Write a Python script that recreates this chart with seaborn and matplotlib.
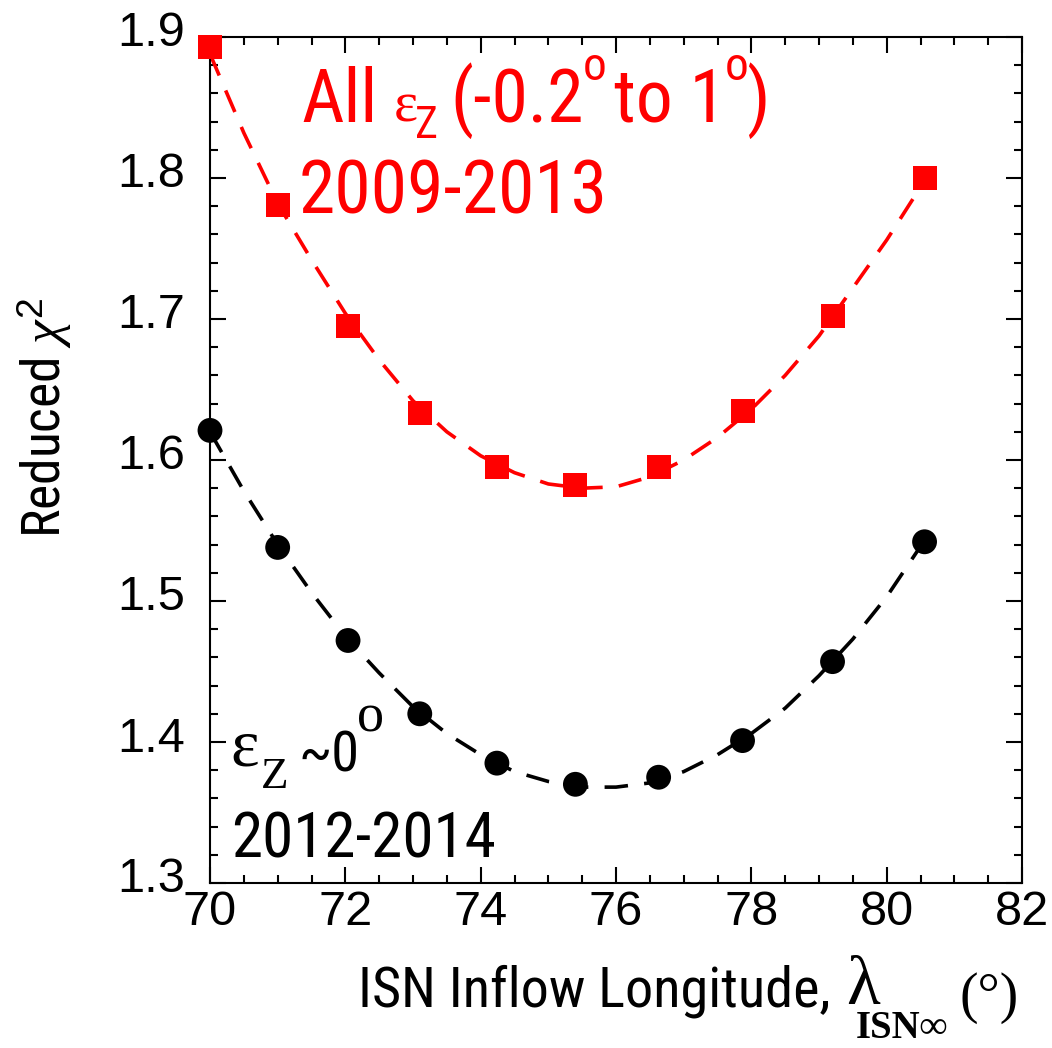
import matplotlib
matplotlib.use("Agg")
import numpy as np
import pandas as pd
import matplotlib.pyplot as plt
import seaborn as sns
from matplotlib import font_manager
from matplotlib.ticker import MultipleLocator
from matplotlib.transforms import ScaledTranslation

# ---------------- data ----------------
lon_pts = [70.0, 71.0, 72.04, 73.1, 74.24, 75.4, 76.63, 77.87, 79.2, 80.56]
chi_all = [1.893, 1.781, 1.695, 1.633, 1.595, 1.582, 1.595, 1.635, 1.702, 1.800]
chi_zero = [1.621, 1.538, 1.472, 1.420, 1.385, 1.370, 1.375, 1.401, 1.457, 1.542]

fit_lon = [70.0, 70.5, 71.0, 71.5, 72.0, 72.5, 73.0, 73.5, 74.0, 74.5, 75.0,
           75.5, 76.0, 76.5, 77.0, 77.5, 78.0, 78.5, 79.0, 79.5, 80.0, 80.56]
fit_all = [1.888, 1.832, 1.782, 1.742, 1.704, 1.671, 1.642, 1.620, 1.603, 1.591, 1.583,
           1.580, 1.581, 1.588, 1.600, 1.616, 1.636, 1.660, 1.688, 1.722, 1.756, 1.798]
fit_zero = [1.620, 1.578, 1.540, 1.506, 1.475, 1.449, 1.425, 1.406, 1.391, 1.379, 1.372,
            1.368, 1.368, 1.371, 1.379, 1.391, 1.406, 1.424, 1.447, 1.473, 1.503, 1.543]

xticks = [70, 72, 74, 76, 78, 80, 82]
yticks = [1.3, 1.4, 1.5, 1.6, 1.7, 1.8, 1.9]
xtick_labels = ["70", "72", "74", "76", "78", "80", "82"]
ytick_labels = ["1.3", "1.4", "1.5", "1.6", "1.7", "1.8", "1.9"]

RED = "#ff0000"
BLACK = "#000000"

# ---------------- style ----------------
sns.set_style("ticks")
names = {f.name for f in font_manager.fontManager.ttflist}
COND = "Roboto Condensed" if "Roboto Condensed" in names else "Liberation Sans"
cond = [COND, "Liberation Sans", "DejaVu Sans"]
serif = ["Liberation Serif", "DejaVu Serif"]
plt.rcParams["font.family"] = ["Liberation Sans", "DejaVu Sans"]
plt.rcParams["mathtext.fontset"] = "custom"
plt.rcParams["mathtext.rm"] = "Liberation Serif"
plt.rcParams["mathtext.it"] = "Liberation Serif:italic"
plt.rcParams["mathtext.bf"] = "Liberation Serif:bold"
plt.rcParams["mathtext.sf"] = "Liberation Sans"
for key in ["text.color", "axes.labelcolor", "xtick.color", "ytick.color",
            "axes.edgecolor"]:
    plt.rcParams[key] = "black"

W, H = 1052, 1048
fig = plt.figure(figsize=(W / 100, H / 100), dpi=100)
fig.patch.set_facecolor("white")
ax = fig.add_axes([210 / W, 1 - 883 / H, (1022 - 210) / W, (883 - 37) / H])

df_fit = pd.DataFrame({"lon": fit_lon, "all": fit_all, "zero": fit_zero})
df_pts = pd.DataFrame({"lon": lon_pts, "all": chi_all, "zero": chi_zero})

# fitted dashed curves
sns.lineplot(data=df_fit, x="lon", y="all", color=RED, lw=2.6, ax=ax,
             estimator=None, sort=False, legend=False)
ax.lines[-1].set_dashes((6.5, 4.5))
sns.lineplot(data=df_fit, x="lon", y="zero", color=BLACK, lw=2.6, ax=ax,
             estimator=None, sort=False, legend=False)
ax.lines[-1].set_dashes((6.5, 4.5))

# markers
sns.scatterplot(data=df_pts, x="lon", y="all", marker="s", s=300, color=RED,
                edgecolor="none", linewidth=0, ax=ax, zorder=3, clip_on=False,
                legend=False)
sns.scatterplot(data=df_pts, x="lon", y="zero", marker="o", s=320, color=BLACK,
                edgecolor="none", linewidth=0, ax=ax, zorder=3, clip_on=False,
                legend=False)

# axes
ax.set_xlim(70, 82)
ax.set_ylim(1.3, 1.9)
ax.set_xticks(xticks)
ax.set_xticklabels(xtick_labels)
ax.set_yticks(yticks)
ax.set_yticklabels(ytick_labels)
ax.xaxis.set_minor_locator(MultipleLocator(0.5))
ax.yaxis.set_minor_locator(MultipleLocator(0.02))
ax.tick_params(which="both", direction="in", top=True, right=True,
               width=1.5, color="black", labelcolor="black")
ax.tick_params(which="major", length=11.5)
ax.tick_params(which="minor", length=5.5)
ax.tick_params(axis="x", which="major", pad=5, labelsize=35)
ax.tick_params(axis="y", which="major", pad=18, labelsize=35)
for sp in ax.spines.values():
    sp.set_linewidth(1.5)
    sp.set_color("black")
ax.grid(False)

# x label: plain part as the axis label, symbol part as separate texts
ax.set_xlabel("ISN Inflow Longitude,", fontsize=40.5, family=cond, color="black")
ax.xaxis.label.set_ha("left")
ax.xaxis.label.set_va("baseline")
ax.xaxis.set_label_coords((358 - 210) / 812, (883 - 1006) / 846)

ax.set_ylabel(r"Reduced $\chi^{\mathsf{2}}$", fontsize=38.5, family=cond,
              color="black")
ax.yaxis.set_label_coords(-0.1675, 0.55)


def put(px, py, s, size, family, color, **kw):
    return fig.text(px / W, 1 - py / H, s, fontsize=size, family=family,
                    color=color, ha="left", va="baseline", **kw)


renderer = fig.canvas.get_renderer()


def chain(start_px, base_py, pieces, color):
    x = start_px
    for s, size, fam, dy, gap in pieces:
        x += gap
        t = put(x, base_py + dy, s, size, fam, color)
        x = t.get_window_extent(renderer).x1


# lambda_{ISN inf} (deg)
put(846, 1004, "λ", 50, serif, BLACK)
put(856, 1038, "ISN∞", 28, serif, BLACK, fontweight="bold")
put(960, 1012, "(°)", 40, serif, BLACK)

# red annotation: All eps_Z (-0.2deg to 1deg) / 2009-2013
chain(301, 121.7, [
    ("All", 53, cond, 0, 0),
    ("ε", 41, serif, 0, 16),
    ("Z", 31.7, cond, 16.3, -2),
    ("(-0.2", 53, cond, 0, 12),
    ("o", 34, cond, -41.7, -1),
    ("to 1", 53, cond, 0, 7),
    ("o", 34, cond, -41.7, -1),
    (")", 53, cond, 0, -2),
], RED)
put(299, 213, "2009-2013", 53, cond, RED)

# black annotation: eps_Z ~0deg / 2012-2014
put(230, 765, "ε", 49, serif, BLACK)
put(261, 788, "Z", 32.6, serif, BLACK)
put(299, 772, "~0", 40.5, cond, BLACK)
put(357, 732, "o", 39, serif, BLACK)
put(231, 858, "2012-2014", 45.5, cond, BLACK)

# shift y tick labels slightly upward like the reference
offset = ScaledTranslation(0, 8 / 100, fig.dpi_scale_trans)
for lbl in ax.get_yticklabels():
    lbl.set_transform(lbl.get_transform() + offset)

fig.savefig("out.png", dpi=100, facecolor="white")
